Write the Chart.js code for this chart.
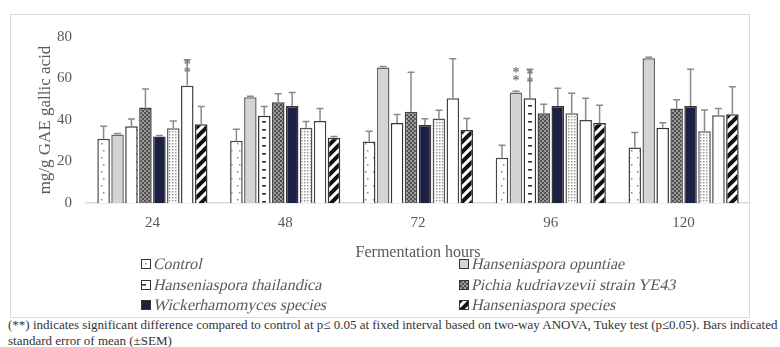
<!DOCTYPE html>
<html><head><meta charset="utf-8">
<script src="https://cdn.jsdelivr.net/npm/chart.js@4.4.1/dist/chart.umd.min.js"></script>
<style>
html,body{margin:0;padding:0;background:#fff;width:780px;height:347px;overflow:hidden;font-family:"Liberation Serif","Times New Roman",serif;}
#frame{position:absolute;left:10px;top:14px;width:738px;height:302px;border:1px solid #dcdcdc;}
#c{position:absolute;left:10px;top:14px;}
.leg{position:absolute;font-family:"Liberation Serif",serif;font-size:16px;color:#5a5a5a;white-space:nowrap;line-height:18px;padding-left:11px;}
.leg span{display:inline-block;transform:skewX(-13deg);transform-origin:0 100%;}
.leg canvas{position:absolute;left:0;top:4px;border:1px solid #333;}
.note{position:absolute;left:8px;font-size:13px;color:#333;white-space:nowrap;line-height:16px;}
</style></head><body>
<div id="frame"></div>
<canvas id="c" width="740" height="248"></canvas>
<div id="legend"></div>
<div class="note" style="top:317px">(**) indicates significant difference compared to control at p≤ 0.05 at fixed interval based on two-way ANOVA, Tukey test (p≤0.05). Bars indicated<br>standard error of mean (±SEM)</div>
<script>
// ---- data ----
const categories = ['24', '48', '72', '96', '120'];
const seriesNames = ['Control', 'Hanseniaspora opuntiae', 'Hanseniaspora thailandica', 'Pichia kudriavzevii strain YE43', 'Wickerhamomyces species', '', '', 'Hanseniaspora species'];
const control = [31, 30, 29.6, 21.8, 26.7];
const controlErr = [6, 5.5, 5, 6, 7.3];
const opuntiae = [33, 51, 65.3, 53.3, 69.7];
const opuntiaeErr = [0.5, 0.5, 0.5, 0.5, 0.5];
const thailandica = [37, 42, 38.6, 50.5, 36.3];
const thailandicaErr = [3.5, 4.5, 4, 14, 2.4];
const pichia = [46, 48.6, 44, 43.3, 45.6];
const pichiaErr = [9, 4, 19, 4.3, 4.2];
const wicker = [32, 46.8, 37.6, 46.7, 46.7];
const wickerErr = [0.5, 6.5, 3, 8.6, 17.7];
const dotted = [36, 36.3, 40.7, 43.3, 34.6];
const dottedErr = [3.5, 3, 4, 9.6, 10.2];
const plain = [56.5, 39.5, 50.5, 40, 42.3];
const plainErr = [12.5, 6, 19, 10.5, 3.3];
const striped = [38, 31.5, 35.2, 38.6, 42.8];
const stripedErr = [8.5, 0.5, 5.5, 8.5, 13.2];
const yTicks = [0, 20, 40, 60, 80];
// significance marks: [series index, category index]
const sigMarks = [[6, 0], [1, 3], [2, 3]];

const values = [control, opuntiae, thailandica, pichia, wicker, dotted, plain, striped];
const errors = [controlErr, opuntiaeErr, thailandicaErr, pichiaErr, wickerErr, dottedErr, plainErr, stripedErr];
const legendOrder = [0, 1, 2, 3, 4, 7];

// ---- patterns ----
function tile(w, h, draw) {
  const c = document.createElement('canvas'); c.width = w; c.height = h;
  const x = c.getContext('2d'); draw(x, w, h); return c;
}
const tiles = [
  tile(8, 14, (x, w, h) => { x.fillStyle = '#fff'; x.fillRect(0, 0, w, h); x.fillStyle = '#888'; x.fillRect(3, 3, 1.5, 1.5); x.fillRect(5, 10, 1.5, 1.5); }),
  tile(4, 4, (x, w, h) => { x.fillStyle = '#d4d4d4'; x.fillRect(0, 0, w, h); }),
  tile(14, 8, (x, w, h) => { x.fillStyle = '#fff'; x.fillRect(0, 0, w, h); x.fillStyle = '#333'; x.fillRect(0, 3, 4, 1.6); }),
  tile(4, 4, (x, w, h) => { x.fillStyle = '#9a9a9a'; x.fillRect(0, 0, w, h); x.fillStyle = '#505050'; x.fillRect(0, 0, 2, 2); x.fillRect(2, 2, 2, 2); }),
  tile(4, 4, (x, w, h) => { x.fillStyle = '#1d2045'; x.fillRect(0, 0, w, h); }),
  tile(3, 3, (x, w, h) => { x.fillStyle = '#fff'; x.fillRect(0, 0, w, h); x.fillStyle = '#9a9a9a'; x.fillRect(0, 0, 1.5, 1.5); }),
  tile(4, 4, (x, w, h) => { x.fillStyle = '#fff'; x.fillRect(0, 0, w, h); }),
  tile(10, 10, (x, w, h) => { x.fillStyle = '#fff'; x.fillRect(0, 0, w, h); x.strokeStyle = '#111'; x.lineWidth = 4;
    x.beginPath(); for (let k = -2; k <= 2; k++) { x.moveTo(k * 10 - 2, h + 2); x.lineTo(k * 10 + w + 2, -2); } x.stroke(); })
];
const ctx = document.getElementById('c').getContext('2d');
const fills = tiles.map(t => ctx.createPattern(t, 'repeat'));
const borders = ['#444', '#666', '#333', '#444', '#333', '#555', '#444', '#333'];

// ---- legend (HTML) ----
const legendPos = [[141, 255], [459, 255], [141, 276], [459, 276], [141, 296], [459, 296]];
const legendEl = document.getElementById('legend');
legendOrder.forEach((si, k) => {
  const d = document.createElement('div'); d.className = 'leg';
  d.style.left = legendPos[k][0] + 'px'; d.style.top = legendPos[k][1] + 'px';
  const sw = document.createElement('canvas'); sw.width = 8; sw.height = 8;
  const sx = sw.getContext('2d'); sx.fillStyle = sx.createPattern(tiles[si], 'repeat'); sx.fillRect(0, 0, 8, 8);
  const sp = document.createElement('span'); sp.textContent = seriesNames[si];
  d.appendChild(sw); d.appendChild(sp);
  legendEl.appendChild(d);
});

// ---- chart ----
const errPlugin = {
  id: 'errbars',
  afterDatasetsDraw(chart) {
    const c = chart.ctx, y = chart.scales.y;
    chart.data.datasets.forEach((ds, i) => {
      const meta = chart.getDatasetMeta(i);
      meta.data.forEach((bar, j) => {
        const v = ds.data[j], e = ds.errors[j];
        const yt = y.getPixelForValue(v + e), yb = y.getPixelForValue(v);
        c.save(); c.strokeStyle = '#8a8a8a'; c.lineWidth = 1.5;
        c.beginPath(); c.moveTo(bar.x, yb); c.lineTo(bar.x, yt);
        c.moveTo(bar.x - 3.5, yt); c.lineTo(bar.x + 3.5, yt); c.stroke(); c.restore();
      });
    });
    sigMarks.forEach(([si, ci]) => {
      const bar = chart.getDatasetMeta(si).data[ci];
      const v = values[si][ci], e = errors[si][ci];
      const top = y.getPixelForValue(Math.max(v + e, v + 12));
      c.save(); c.fillStyle = '#777'; c.font = 'bold 14px "Liberation Serif"'; c.textAlign = 'center'; c.textBaseline = 'middle';
      c.fillText('*', bar.x, top + 6); c.fillText('*', bar.x, top + 14); c.restore();
    });
  }
};

new Chart(ctx, {
  type: 'bar',
  data: {
    labels: categories,
    datasets: values.map((v, i) => ({
      label: seriesNames[i], data: v, errors: errors[i],
      backgroundColor: fills[i], borderColor: borders[i], borderWidth: 1.5,
      categoryPercentage: 0.84, barPercentage: 0.9
    }))
  },
  options: {
    responsive: false, animation: false, devicePixelRatio: 1,
    layout: { padding: { top: 21, right: 0, left: 0, bottom: 0 } },
    plugins: { legend: { display: false }, tooltip: { enabled: false } },
    scales: {
      x: {
        grid: { display: false, drawTicks: false, tickLength: 0 },
        border: { display: true, color: '#d9d9d9', width: 1.5 },
        ticks: { font: { family: 'Liberation Serif', size: 15 }, color: '#595959', padding: 11 },
        title: { display: true, text: 'Fermentation hours', font: { family: 'Liberation Serif', size: 16 }, color: '#595959', padding: { top: 0, bottom: 0 } },
        afterFit(s) { s.height = 59; }
      },
      y: {
        min: 0, max: 80,
        afterBuildTicks(s) { s.ticks = yTicks.map(v => ({ value: v })); },
        grid: { display: false, drawTicks: false, tickLength: 0 },
        border: { display: false },
        ticks: { font: { family: 'Liberation Serif', size: 15 }, color: '#595959', padding: 14 },
        title: { display: true, text: 'mg/g GAE gallic acid', font: { family: 'Liberation Serif', size: 17 }, color: '#595959', padding: { top: 25, bottom: 0 } },
        afterFit(s) { s.width = 76; }
      }
    }
  },
  plugins: [errPlugin]
});
</script>
</body></html>
